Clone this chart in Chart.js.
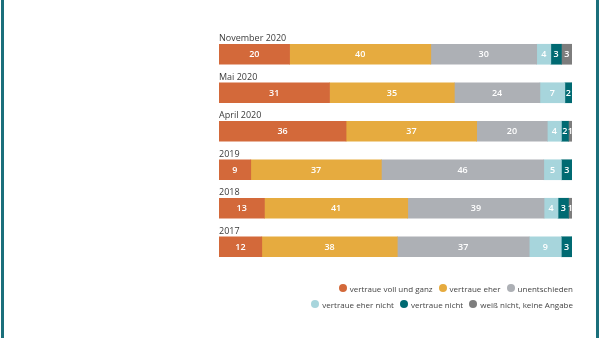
<!DOCTYPE html>
<html>
<head>
<meta charset="utf-8">
<script src="https://cdn.jsdelivr.net/npm/chart.js@4.4.0/dist/chart.umd.min.js"></script>
<style>
  html, body { margin: 0; padding: 0; background: #fff; }
  #wrap { position: relative; width: 600px; height: 338px; overflow: hidden; }
  #frameL { position: absolute; left: 1px; top: 0; width: 3px; height: 338px; background: #1b6f7b; }
  #frameR { position: absolute; left: 596px; top: 0; width: 3px; height: 338px; background: #1b6f7b; }
  #legend { position: absolute; right: 27px; top: 280px; font-family: "Open Sans", sans-serif; font-size: 8px; color: #444; }
  .row { display: flex; justify-content: flex-end; height: 16px; align-items: center; }
  .item { display: flex; align-items: center; margin-left: 6px; }
  .dot { width: 8px; height: 8px; border-radius: 50%; margin-right: 3px; }
</style>
</head>
<body>
<div id="wrap">
  <canvas id="chart" width="600" height="338"></canvas>
  <div id="frameL"></div>
  <div id="frameR"></div>
  <div id="legend"></div>
</div>
<script>
var periods = ["November 2020", "Mai 2020", "April 2020", "2019", "2018", "2017"];
var seriesNames = ["vertraue voll und ganz", "vertraue eher", "unentschieden",
  "vertraue eher nicht", "vertraue nicht", "weiß nicht, keine Angabe"];
var colors = ["#d3693a", "#e6ab3f", "#adb0b5", "#a7d5dc", "#006a72", "#7d7d7d"];

var vollUndGanz = [20, 31, 36, 9, 13, 12];
var eher = [40, 35, 37, 37, 41, 38];
var unentschieden = [30, 24, 20, 46, 39, 37];
var eherNicht = [4, 7, 4, 5, 4, 9];
var nicht = [3, 2, 2, 3, 3, 3];
var weissNicht = [3, 0, 1, 0, 1, 0];

var series = [vollUndGanz, eher, unentschieden, eherNicht, nicht, weissNicht];

// each bar is drawn filling the full width, as in the original
var rowTotals = periods.map(function (p, i) {
  var s = 0;
  series.forEach(function (arr) { s += arr[i]; });
  return s;
});

var datasets = series.map(function (arr, k) {
  return {
    label: seriesNames[k],
    raw: arr,
    data: arr.map(function (v, i) { return v / rowTotals[i] * 100; }),
    backgroundColor: colors[k],
    borderWidth: 0,
    barThickness: 20
  };
});

var labelPlugin = {
  id: "labels",
  afterDatasetsDraw: function (chart) {
    var ctx = chart.ctx;
    ctx.save();
    ctx.textAlign = "center";
    ctx.textBaseline = "middle";
    ctx.font = "600 9px 'Open Sans', sans-serif";
    ctx.fillStyle = "#ffffff";
    chart.data.datasets.forEach(function (ds, k) {
      var meta = chart.getDatasetMeta(k);
      meta.data.forEach(function (bar, i) {
        var v = ds.raw[i];
        if (!v) return;
        var cx = (bar.x + bar.base) / 2;
        ctx.fillText(String(v), cx, bar.y + 0.5);
      });
    });
    // period labels above the bars
    var yScale = chart.scales.y;
    ctx.textAlign = "left";
    ctx.textBaseline = "alphabetic";
    ctx.font = "9px 'Open Sans', sans-serif";
    ctx.fillStyle = "#3a3a3a";
    periods.forEach(function (p, i) {
      ctx.fillText(p, chart.chartArea.left, yScale.getPixelForValue(i) - 13);
    });
    ctx.restore();
  }
};

new Chart(document.getElementById("chart"), {
  type: "bar",
  data: { labels: periods, datasets: datasets },
  options: {
    indexAxis: "y",
    responsive: false,
    animation: false,
    layout: { padding: { left: 219, right: 28, top: 35, bottom: 72 } },
    scales: {
      x: { stacked: true, min: 0, max: 100, display: false },
      y: { stacked: true, display: false }
    },
    plugins: {
      legend: { display: false },
      tooltip: { enabled: false }
    }
  },
  plugins: [labelPlugin]
});

// legend in two right aligned rows
var legend = document.getElementById("legend");
[[0, 1, 2], [3, 4, 5]].forEach(function (rowIdx) {
  var row = document.createElement("div");
  row.className = "row";
  rowIdx.forEach(function (k) {
    var item = document.createElement("div");
    item.className = "item";
    item.innerHTML = '<span class="dot" style="background:' + colors[k] + '"></span>' + seriesNames[k];
    row.appendChild(item);
  });
  legend.appendChild(row);
});
</script>
</body>
</html>
